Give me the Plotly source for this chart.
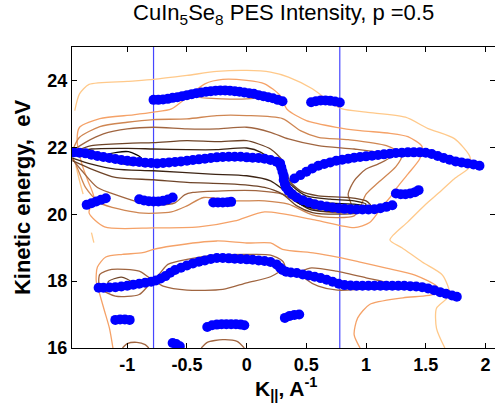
import plotly.graph_objects as go

# ---------------- data ----------------
# blue peak positions (K, Ekin)
A1_X = [-0.78,-0.74,-0.70,-0.66,-0.62,-0.58,-0.54,-0.50,-0.46,-0.42,-0.38,-0.34,-0.30,-0.26,-0.22,-0.18,-0.14,-0.10,-0.06,-0.02,0.02,0.06,0.10,0.14,0.18,0.22,0.26,0.30]
A1_Y = [23.42,23.42,23.43,23.45,23.48,23.50,23.53,23.56,23.59,23.62,23.64,23.66,23.68,23.69,23.70,23.70,23.69,23.68,23.66,23.64,23.62,23.60,23.56,23.53,23.50,23.47,23.42,23.38]
A2_X = [0.54,0.58,0.62,0.66,0.70,0.74,0.78]
A2_Y = [23.35,23.38,23.40,23.40,23.39,23.37,23.34]
B1_X = [-1.45,-1.40,-1.35,-1.30,-1.25,-1.20,-1.15,-1.10,-1.05,-1.00,-0.95,-0.90,-0.85,-0.80,-0.75,-0.70,-0.65,-0.60,-0.55,-0.50,-0.45,-0.40,-0.35,-0.30,-0.25,-0.20,-0.15,-0.10,-0.05,0.00,0.05,0.10,0.15,0.20,0.25,0.28,
        0.29,0.30,0.31,0.31,0.32,0.33,0.35,0.38,0.42,0.47,0.52,0.57,0.62,0.67,0.72,0.77,0.82,0.87,0.92,0.97,1.02,1.07,1.12,1.17,1.22]
B1_Y = [21.85,21.84,21.82,21.78,21.74,21.71,21.68,21.65,21.62,21.60,21.58,21.56,21.54,21.53,21.52,21.53,21.55,21.56,21.58,21.60,21.62,21.64,21.66,21.68,21.70,21.71,21.72,21.72,21.72,21.70,21.69,21.68,21.66,21.62,21.57,21.52,
        21.40,21.27,21.15,21.02,20.90,20.80,20.70,20.60,20.50,20.42,20.35,20.30,20.26,20.23,20.20,20.18,20.16,20.15,20.14,20.14,20.14,20.15,20.18,20.22,20.27]
B2_X = [0.40,0.45,0.50,0.55,0.60,0.65,0.70,0.75,0.80,0.85,0.90,0.95,1.00,1.05,1.10,1.15,1.20,1.25,1.30,1.35,1.40,1.45,1.50,1.55,1.60,1.65,1.70,1.75,1.80,1.85,1.90,1.95]
B2_Y = [21.07,21.17,21.27,21.37,21.45,21.50,21.55,21.60,21.63,21.66,21.69,21.71,21.73,21.75,21.77,21.79,21.81,21.83,21.84,21.85,21.85,21.85,21.84,21.80,21.74,21.68,21.63,21.58,21.55,21.52,21.49,21.45]
C_X = [-1.34,-1.30,-1.26,-1.22,-1.18]
C_Y = [20.28,20.33,20.38,20.43,20.48]
D_X = [-0.90,-0.86,-0.82,-0.78,-0.74,-0.70,-0.66,-0.62]
D_Y = [20.45,20.41,20.39,20.38,20.38,20.40,20.44,20.50]
E_X = [-0.28,-0.24,-0.20,-0.16,-0.13]
E_Y = [20.35,20.35,20.35,20.36,20.37]
F_X = [1.25,1.29,1.33,1.37,1.41,1.44]
F_Y = [20.62,20.60,20.60,20.62,20.66,20.72]
G_X = [-1.24,-1.20,-1.15,-1.10,-1.05,-1.00,-0.95,-0.90,-0.85,-0.80,-0.76,-0.72,-0.68,-0.64,-0.60,-0.55,-0.50,-0.45,-0.40,-0.35,-0.30,-0.25,-0.20,-0.15,-0.10,-0.05,0.00,0.05,0.10,0.15,0.20,0.25,0.28,0.30,0.33,0.37,0.42,0.47,0.52,0.57,0.62,0.67,0.72,0.77,0.82,0.87,0.92,0.97,1.02,1.07,1.12,1.17,1.22,1.27,1.32,1.37,1.42,1.47,1.52,1.57,1.62,1.67,1.72,1.76]
G_Y = [17.80,17.80,17.81,17.82,17.84,17.86,17.89,17.92,17.95,17.98,18.02,18.08,18.15,18.25,18.33,18.40,18.47,18.53,18.58,18.62,18.66,18.69,18.69,18.68,18.67,18.66,18.65,18.64,18.62,18.60,18.57,18.50,18.40,18.33,18.28,18.26,18.24,18.20,18.17,18.13,18.09,18.04,17.98,17.92,17.88,17.87,17.86,17.86,17.86,17.86,17.86,17.86,17.86,17.86,17.86,17.85,17.84,17.82,17.78,17.73,17.67,17.62,17.57,17.53]
H_X = [-1.10,-1.06,-1.02,-0.98]
H_Y = [16.84,16.85,16.85,16.84]
I_X = [-0.33,-0.29,-0.25,-0.21,-0.17,-0.13,-0.09,-0.05,-0.02]
I_Y = [16.63,16.68,16.70,16.71,16.71,16.71,16.71,16.70,16.68]
J_X = [0.32,0.36,0.40,0.44]
J_Y = [16.90,16.96,16.99,17.00]
K_X = [-0.62,-0.59,-0.56]
K_Y = [16.15,16.12,16.05]
PEAKS = [(A1_X, A1_Y), (A2_X, A2_Y), (B1_X, B1_Y), (B2_X, B2_Y), (C_X, C_Y), (D_X, D_Y),
         (E_X, E_Y), (F_X, F_Y), (G_X, G_Y), (H_X, H_Y), (I_X, I_Y), (J_X, J_Y), (K_X, K_Y)]

# contour lines of the PES intensity, (K, Ekin) points, level 1 = lowest
UL1 = [(-1.44,23.1),(-1.4,23.6),(-1.32,23.88),(-1.0,23.97),(-0.78,24.03),(-0.5,24.15),(-0.25,24.27),(0.0,24.3),(0.2,24.25),(0.35,24.1),(0.55,23.75),(0.72,23.3),(0.8,23.15),(1.0,23.05),(1.33,22.9),(1.52,22.56),(1.74,22.26),(1.87,21.72),(1.87,21.42),(1.74,21.06),(1.6,20.61),(1.5,20.3),(1.35,19.77),(1.2,19.23),(1.3,19.0),(1.47,18.57),(1.64,18.18),(1.7,17.58),(1.59,17.19),(1.59,16.59),(1.66,16.0)]
UL1B = [(-1.43,21.45),(-1.40,21.0),(-1.37,20.6)]
LL1B = [(-1.3,19.45),(-1.28,19.15)]
UL2 = [(-1.42,22.2),(-1.40,22.6),(-1.23,22.86),(-0.95,22.97),(-0.78,23.05),(-0.63,23.15),(-0.5,23.5),(-0.35,23.9),(-0.2,24.03),(0.0,24.0),(0.15,23.9),(0.28,23.55),(0.34,23.13),(0.5,22.8),(0.75,22.6),(0.95,22.5),(1.2,22.42),(1.35,22.32),(1.47,22.02),(1.45,21.66),(1.35,21.2),(1.26,20.8),(1.2,20.5),(1.14,20.25),(1.03,19.75),(0.9,19.6),(0.57,19.83),(0.15,20.07),(-0.1,19.8),(-0.4,19.62),(-0.78,19.59),(-1.19,19.62),(-1.32,20.04),(-1.28,20.5),(-1.33,21.0),(-1.38,21.5),(-1.42,22.2)]
UTOP = [(-0.4,23.5),(-0.3,23.62),(-0.1,23.65),(0.08,23.6),(0.12,23.5),(0.0,23.45),(-0.2,23.45),(-0.4,23.5)]
UL3 = [(-1.45,21.98),(-1.4,22.3),(-1.23,22.62),(-1.0,22.75),(-0.78,22.83),(-0.5,22.85),(-0.25,22.95),(0.0,22.95),(0.3,22.86),(0.45,22.5),(0.6,22.3),(0.85,22.23),(1.17,22.05),(1.3,21.78),(1.25,21.42),(1.1,20.94),(1.0,20.6),(0.95,20.2),(0.9,19.95),(0.75,19.9),(0.55,19.98),(0.35,20.3),(0.15,20.4),(-0.1,20.4),(-0.36,20.5),(-0.5,20.25),(-0.63,20.07),(-0.9,20.04),(-1.23,20.34),(-1.35,20.8),(-1.42,21.4),(-1.46,21.7)]
UL4 = [(-1.46,21.9),(-1.35,22.15),(-1.2,22.4),(-1.0,22.55),(-0.78,22.6),(-0.5,22.55),(-0.25,22.55),(0.0,22.6),(0.2,22.45),(0.35,22.25),(0.6,22.05),(0.9,21.95),(1.1,21.85),(1.2,21.7),(1.1,21.5),(1.0,21.35),(0.9,21.0),(0.85,20.6),(0.88,20.2),(0.8,20.05),(0.6,20.1),(0.45,20.3),(0.3,20.6),(0.1,20.7),(-0.2,20.7),(-0.45,20.65),(-0.52,20.58),(-0.6,20.34),(-0.74,20.28),(-0.88,20.34),(-1.07,20.55),(-1.25,20.8),(-1.38,21.3),(-1.46,21.65)]
UL5 = [(-1.46,21.85),(-1.3,22.05),(-1.0,22.12),(-0.78,22.14),(-0.5,22.2),(-0.25,22.17),(0.0,22.2),(0.1,22.1),(0.2,21.95),(0.3,21.6),(0.36,21.0),(0.45,20.7),(0.6,20.55),(0.85,20.5),(1.0,20.4),(1.05,20.2),(0.95,20.05),(0.75,20.0),(0.55,20.05),(0.42,20.25),(0.3,20.6),(0.15,20.8),(-0.1,20.9),(-0.5,20.95),(-0.78,21.03),(-1.1,21.1),(-1.3,21.35),(-1.46,21.6)]
UL6 = [(-1.46,21.82),(-1.3,21.95),(-1.0,21.97),(-0.78,21.95),(-0.5,21.93),(-0.25,21.93),(0.0,21.98),(0.12,21.85),(0.22,21.55),(0.3,21.2),(0.38,20.85),(0.5,20.55),(0.7,20.45),(0.9,20.4),(1.0,20.3),(0.95,20.12),(0.75,20.08),(0.55,20.12),(0.45,20.3),(0.3,20.75),(0.2,21.0),(0.0,21.15),(-0.3,21.2),(-0.78,21.3),(-1.1,21.35),(-1.3,21.5),(-1.46,21.68)]
UL7A = [(-1.16,21.78),(-0.99,21.87),(-0.88,21.67),(-0.93,21.48),(-1.1,21.57),(-1.16,21.78)]
UL7B = [(0.3,21.0),(0.45,20.55),(0.65,20.35),(0.9,20.3),(1.0,20.22),(0.85,20.12),(0.6,20.15),(0.45,20.3),(0.33,20.65),(0.3,21.0)]
LL2 = [(-1.12,16.0),(-1.15,16.6),(-1.19,17.1),(-1.23,17.6),(-1.26,18.0),(-1.25,18.42),(-1.18,18.72),(-1.04,18.8),(-0.87,18.85),(-0.78,18.95),(-0.63,19.05),(-0.25,19.2),(0.0,19.14),(0.2,19.14),(0.3,18.95),(0.57,18.84),(0.76,18.72),(0.95,18.57),(1.17,18.39),(1.41,18.18),(1.6,17.82),(1.58,17.62),(1.31,17.5),(1.03,17.3),(0.93,16.9),(0.9,16.4),(0.95,16.0)]
LL4 = [(-1.23,18.2),(-1.13,18.35),(-0.9,18.3),(-0.78,18.05),(-0.66,18.5),(-0.5,18.65),(-0.25,18.78),(0.0,18.8),(0.2,18.78),(0.3,18.6),(0.32,18.43),(0.2,18.13),(0.0,17.95),(-0.2,17.75),(-0.5,17.73),(-0.7,17.85),(-0.78,18.0),(-0.9,17.6),(-1.1,17.55),(-1.23,17.8),(-1.23,18.2)]
LL4B = [(0.45,18.25),(0.53,18.39),(0.75,18.3),(1.0,18.1),(1.17,17.95),(1.05,17.8),(0.76,17.73),(0.6,17.85),(0.5,18.05),(0.45,18.25)]
LL5 = [(-1.16,17.98),(-1.05,18.12),(-0.97,17.98),(-1.03,17.78),(-1.15,17.81),(-1.16,17.98)]
LB1 = [(-1.04,16.0),(-1.0,16.13),(-0.92,16.17),(-0.85,16.1),(-0.82,16.0)]
LB2 = [(-0.38,16.0),(-0.33,16.17),(-0.2,16.25),(-0.08,16.2),(-0.02,16.0)]
CONTOURS = [(UL1, 1), (UL1B, 1), (LL1B, 1), (UL2, 2), (LL2, 2), (UTOP, 3), (UL3, 3),
            (UL4, 4), (LL4, 4), (LL4B, 4), (LB1, 4), (LB2, 4), (UL5, 5), (LL5, 5),
            (UL6, 6), (UL7A, 7), (UL7B, 7)]
LEVEL_COLORS = {1: "#FFC98A", 2: "#F5A268", 3: "#CF8652", 4: "#A06540", 5: "#6E4428", 6: "#3C2414", 7: "#0C0804"}

VLINES = [-0.78, 0.78]
X_TICKS = [-1, -0.5, 0, 0.5, 1, 1.5, 2]
X_TICKTEXT = ["-1", "-0.5", "0", "0.5", "1", "1.5", "2"]
Y_TICKS = [16, 18, 20, 22, 24]
X_RANGE = [-1.463, 2.08]
Y_RANGE = [16, 25]

# ---------------- figure ----------------
fig = go.Figure()
for pts, lev in CONTOURS:
    fig.add_trace(go.Scatter(x=[p[0] for p in pts], y=[p[1] for p in pts], mode="lines",
                             line=dict(color=LEVEL_COLORS[lev], width=1.3, shape="spline", smoothing=0.7),
                             hoverinfo="skip", showlegend=False))
for xv in VLINES:
    fig.add_shape(type="line", xref="x", yref="paper", x0=xv, x1=xv, y0=0, y1=1,
                  line=dict(color="rgb(70,70,255)", width=1.2), layer="below")
for xs, ys in PEAKS:
    fig.add_trace(go.Scatter(x=xs, y=ys, mode="markers",
                             marker=dict(color="#0000FF", size=10, line=dict(width=0)),
                             showlegend=False))

FONT = "Liberation Sans, Arial, sans-serif"
fig.add_annotation(text="<b>K<sub>||</sub>, A<sup>-1</sup></b>", xref="paper", yref="paper",
                   x=0.428, xanchor="left", y=-0.135, yanchor="middle", showarrow=False,
                   font=dict(family=FONT, size=21, color="black"))
fig.update_layout(
    width=495, height=412,
    margin=dict(l=72, r=0, t=47, b=64, autoexpand=False),
    paper_bgcolor="white", plot_bgcolor="white",
    font=dict(family=FONT, color="black"),
    title=dict(text="CuIn<sub>5</sub>Se<sub>8</sub> PES Intensity, p =0.5",
               font=dict(family=FONT, size=22, color="black"),
               x=0.573, xanchor="center", y=0.969, yanchor="middle"),
    xaxis=dict(range=X_RANGE, tickvals=X_TICKS, ticktext=X_TICKTEXT, ticks="inside", ticklen=5,
               tickcolor="black", showline=True, linecolor="black", linewidth=1, mirror="ticks",
               showgrid=False, zeroline=False, automargin=False,
               tickfont=dict(family=FONT, size=18, color="black", weight="bold")),
    yaxis=dict(range=Y_RANGE, tickvals=Y_TICKS, ticks="inside", ticklen=5,
               tickcolor="black", showline=True, linecolor="black", linewidth=1, mirror="ticks",
               showgrid=False, zeroline=False, automargin=False,
               tickfont=dict(family=FONT, size=18, color="black", weight="bold"),
               title=dict(text="Kinetic energy,  eV", standoff=10,
                          font=dict(family=FONT, size=22, color="black", weight="bold"))),
)
# remove the browser's default 8 px page margin so the figure fills the window
fig.write_html("out.html", config={"displayModeBar": False},
               post_script="document.body.style.margin='0px';")
